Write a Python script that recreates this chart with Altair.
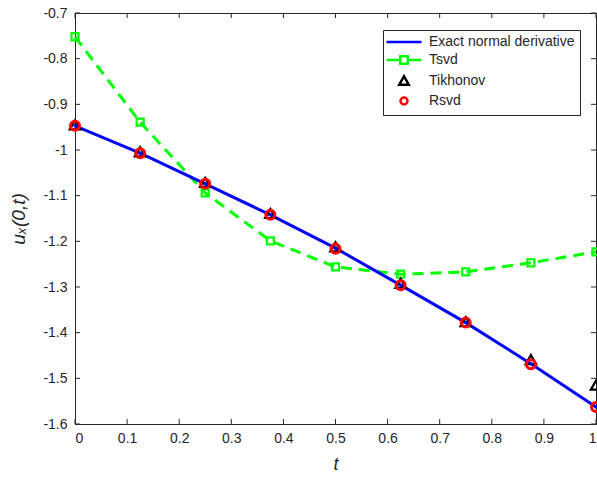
import altair as alt
import pandas as pd

t_vals = [0, 0.125, 0.25, 0.375, 0.5, 0.625, 0.75, 0.875, 1]
exact = [-0.947, -1.007, -1.074, -1.142, -1.215, -1.296, -1.378, -1.468, -1.563]
tsvd = [-0.752, -0.939, -1.094, -1.199, -1.256, -1.272, -1.267, -1.247, -1.223]
tikhonov = [-0.945, -1.004, -1.071, -1.139, -1.212, -1.292, -1.376, -1.459, -1.515]
rsvd = [-0.947, -1.007, -1.074, -1.142, -1.216, -1.296, -1.378, -1.469, -1.563]

series_names = ["Exact normal derivative", "Tsvd", "Tikhonov", "Rsvd"]
series_colors = ["#0000ff", "#00ff00", "#000000", "#ff0000"]
x_ticks = [0, 0.1, 0.2, 0.3, 0.4, 0.5, 0.6, 0.7, 0.8, 0.9, 1]
y_ticks = [-0.7, -0.8, -0.9, -1, -1.1, -1.2, -1.3, -1.4, -1.5, -1.6]

W, H = 521, 411
FONT = "Liberation Sans"
INK = "#262626"

df = pd.DataFrame({"t": t_vals, "exact": exact, "tsvd": tsvd,
                   "tikhonov": tikhonov, "rsvd": rsvd})
xtick_df = pd.DataFrame({"v": x_ticks})
ytick_df = pd.DataFrame({"v": y_ticks})
legend_df = pd.DataFrame({"series": series_names})

xscale = alt.Scale(domain=[0, 1], nice=False, zero=False)
yscale = alt.Scale(domain=[-1.6, -0.7], nice=False, zero=False)

xenc = alt.X("t:Q", scale=xscale, axis=alt.Axis(
    values=x_ticks, tickSize=0, labelExpr="'' + datum.value", grid=False,
    title="t", titleFontStyle="italic", titleFontWeight="normal", titleFontSize=18,
    titlePadding=10, labelPadding=7, labelFontSize=14, labelColor=INK,
    titleColor=INK, domainColor=INK, labelFont=FONT, titleFont=FONT))


def yenc(field):
    return alt.Y(field, type="quantitative", scale=yscale, axis=alt.Axis(
        values=y_ticks, tickSize=0, labelExpr="'' + datum.value", grid=False,
        title="uₓ(0,t)", titleFontStyle="italic", titleFontWeight="normal",
        titleFontSize=19, titlePadding=14, labelPadding=8, labelFontSize=14,
        labelColor=INK, titleColor=INK, domainColor=INK, labelFont=FONT,
        titleFont=FONT))


base = alt.Chart(df)

exact_line = base.mark_line(color="#0000ff", strokeWidth=3).encode(x=xenc, y=yenc("exact"))
exact_dots = base.mark_point(color="#0000ff", filled=True, size=12, opacity=1).encode(x=xenc, y=yenc("exact"))
tsvd_line = base.mark_line(color="#00ff00", strokeWidth=3, strokeDash=[11, 7]).encode(x=xenc, y=yenc("tsvd"))
tsvd_pts = base.mark_point(color="#00ff00", shape="square", filled=False, size=50,
                           strokeWidth=2.2, opacity=1).encode(x=xenc, y=yenc("tsvd"))
tik_pts = base.mark_point(color="#000000", shape="triangle-up", filled=False, size=110,
                          strokeWidth=2.2, opacity=1).encode(x=xenc, y=yenc("tikhonov"))
rsvd_pts = base.mark_point(color="#ff0000", shape="circle", filled=False, size=81,
                           strokeWidth=3, opacity=1).encode(x=xenc, y=yenc("rsvd"))

# inward ticks (MATLAB box style)
xt = alt.Chart(xtick_df)
yt = alt.Chart(ytick_df)
tick_style = dict(color=INK, strokeWidth=1)
xt_bottom = xt.mark_rule(**tick_style).encode(x=alt.X("v:Q", scale=xscale), y=alt.value(H), y2=alt.value(H - 5))
xt_top = xt.mark_rule(**tick_style).encode(x=alt.X("v:Q", scale=xscale), y=alt.value(0), y2=alt.value(5))
yt_left = yt.mark_rule(**tick_style).encode(y=alt.Y("v:Q", scale=yscale), x=alt.value(0), x2=alt.value(5))
yt_right = yt.mark_rule(**tick_style).encode(y=alt.Y("v:Q", scale=yscale), x=alt.value(W), x2=alt.value(W - 5))

legend_paths = [
    "M-3.5,0L3.5,0",
    "M-3.5,0L-0.75,0M0.75,0L3.5,0M-0.75,-0.75L0.75,-0.75L0.75,0.75L-0.75,0.75Z",
    "M0,-0.95L0.95,0.75L-0.95,0.75Z",
    "M0.7,0A0.7,0.7,0,1,1,-0.7,0A0.7,0.7,0,1,1,0.7,0Z",
]

leg = alt.Legend(orient="none", legendX=308, legendY=17, title=None)

legend_layer = alt.Chart(legend_df).transform_filter("false").mark_point(
    filled=False, strokeWidth=2.5, opacity=1).encode(
    color=alt.Color("series:N", scale=alt.Scale(domain=series_names, range=series_colors),
                    legend=leg),
    shape=alt.Shape("series:N", scale=alt.Scale(domain=series_names, range=legend_paths),
                    legend=leg),
)

chart = alt.layer(
    tsvd_line, exact_line, tsvd_pts, tik_pts, rsvd_pts, exact_dots,
    xt_bottom, xt_top, yt_left, yt_right, legend_layer,
).properties(
    width=W, height=H, autosize="none", background="white",
    padding={"left": 75, "top": 13, "right": 1, "bottom": 53},
).configure_view(
    stroke=INK, strokeWidth=1
).configure_legend(
    padding=5,
    strokeColor=INK, fillColor="white", strokeWidth=1,
    labelFont=FONT, labelFontSize=14, labelColor=INK,
    symbolSize=100, symbolStrokeWidth=2.5, symbolOffset=9, labelOffset=18,
    rowPadding=2, symbolFillColor="transparent",
)

chart.save("out.html", embed_options={"renderer": "svg", "actions": False})
